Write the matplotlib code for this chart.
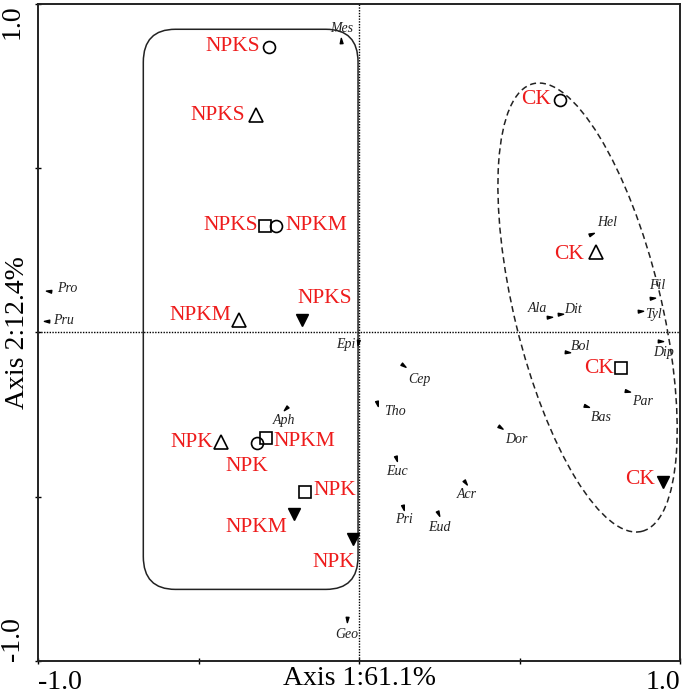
import numpy as np
import matplotlib.pyplot as plt
from matplotlib.patches import FancyBboxPatch, Ellipse
from matplotlib.markers import MarkerStyle
from matplotlib.path import Path

plt.rcParams['font.family'] = ['Liberation Serif', 'DejaVu Serif']

# sample scores (treatment, sampling code)
sample_names = ['NPKS', 'NPKS', 'NPKS', 'NPKM', 'NPKM', 'NPKS',
                'NPK', 'NPK', 'NPKM', 'NPK', 'NPKM', 'NPK',
                'CK', 'CK', 'CK', 'CK']
sample_code = ['o', '^', 's', 'o', '^', 'v',
               '^', 'o', 's', 's', 'v', 'v',
               'o', '^', 's', 'v']
sample_x = [-0.279, -0.322, -0.293, -0.259, -0.374, -0.179,
            -0.431, -0.319, -0.291, -0.168, -0.202, -0.020,
            0.626, 0.737, 0.816, 0.946]
sample_y = [0.870, 0.662, 0.325, 0.325, 0.038, 0.038,
            -0.332, -0.335, -0.322, -0.487, -0.553, -0.629,
            0.708, 0.246, -0.107, -0.454]

# species scores
species = ['Mes', 'Pro', 'Pru', 'Epi', 'Aph', 'Geo', 'Hel', 'Fil', 'Tyl', 'Ala', 'Dit',
           'Bol', 'Dip', 'Par', 'Bas', 'Dor', 'Cep', 'Tho', 'Euc', 'Acr', 'Pri', 'Eud']
species_x = [-0.057, -0.965, -0.971, -0.004, -0.228, -0.038, 0.722, 0.912, 0.875, 0.593, 0.626,
             0.647, 0.938, 0.836, 0.707, 0.439, 0.138, 0.055, 0.114, 0.330, 0.138, 0.245]
species_y = [0.888, 0.126, 0.036, -0.028, -0.231, -0.873, 0.299, 0.106, 0.066, 0.046, 0.056,
             -0.058, -0.025, -0.178, -0.223, -0.289, -0.100, -0.216, -0.381, -0.454, -0.530, -0.550]

x_ticklabels = ['-1.0', '', '', '', '1.0']
y_ticklabels = ['-1.0', '', '', '', '1.0']

# label placement (pixels offset, alignment)
sample_off = [(-9, 0, 'right'), (-11, 0, 'right'), (-7, 0, 'right'), (10, 0, 'left'),
              (-8, 5, 'right'), (23, 22, 'center'), (-7, -1, 'right'), (-10, -24, 'center'),
              (8, -3, 'left'), (8, 2, 'left'), (-7, -13, 'right'), (3, -23, 'right'),
              (-9, 0, 'right'), (-12, -3, 'right'), (-7, -1, 'right'), (-8, 2, 'right')]
species_off = [(1, 12, 'center'), (8, 3, 'left'), (6, 0, 'left'), (-2, -3, 'right'),
               (-2, -12, 'center'), (0, -15, 'center'), (6, 12, 'left'), (-3, 12, 'left'),
               (5, -4, 'left'), (-2, 9, 'right'), (4, 5, 'left'), (4, 5, 'left'),
               (-7, -12, 'left'), (5, -11, 'left'), (5, -12, 'left'), (5, -12, 'left'),
               (5, -14, 'left'), (7, -8, 'left'), (1, -14, 'center'), (2, -13, 'center'),
               (1, -13, 'center'), (2, -14, 'center')]

fig = plt.figure(figsize=(6.85, 6.98), dpi=100)
ax = fig.add_axes([0.0555, 0.053, 0.9372, 0.9413])
ax.set_xlim(-1, 1)
ax.set_ylim(-1, 1)

ax.axhline(0, color='black', lw=1, ls=(0, (1, 1)), zorder=1)
ax.axvline(0, color='black', lw=1, ls=(0, (1, 1)), zorder=1)

# group outlines
box = FancyBboxPatch((-0.672, -0.782), 0.669, 1.705,
                     boxstyle='round,pad=0,rounding_size=0.1',
                     fc='none', ec='#222222', lw=1.1, zorder=2)
ax.add_patch(box)
ell = Ellipse((0.712, 0.076), 0.457, 1.404, angle=14, fc='none', ec='#222222',
              lw=1.1, ls=(0, (4, 2.5)), zorder=2)
ax.add_patch(ell)

# species arrowheads
head = Path([(0, 1), (-0.45, -0.7), (0.45, -0.7), (0, 1)],
            [Path.MOVETO, Path.LINETO, Path.LINETO, Path.CLOSEPOLY])
for i, name in enumerate(species):
    ang = np.degrees(np.arctan2(species_y[i], species_x[i])) - 90
    m = MarkerStyle(head).rotated(deg=ang)
    ax.plot(species_x[i], species_y[i], marker=m, ms=4.5, color='black', ls='none', zorder=3)
    dx, dy, ha = species_off[i]
    ax.annotate(name, (species_x[i], species_y[i]), xytext=(dx, dy), textcoords='offset pixels',
                ha=ha, va='center', fontsize=10, style='italic', color='#222222', zorder=4)

# samples
msize = {'o': 8.6, '^': 9.5, 's': 8.6, 'v': 9.2}
for i, name in enumerate(sample_names):
    c = sample_code[i]
    if c == 'v':
        ax.plot(sample_x[i], sample_y[i], marker=c, ms=msize[c], color='black', ls='none', zorder=5)
    else:
        ax.plot(sample_x[i], sample_y[i], marker=c, ms=msize[c], mfc='none', mec='black',
                mew=1.2, ls='none', zorder=5)
    dx, dy, ha = sample_off[i]
    ax.annotate(name, (sample_x[i], sample_y[i]), xytext=(dx, dy), textcoords='offset pixels',
                ha=ha, va='center', fontsize=15.5, color='#ee1c1c', zorder=6)

ticks = [-1, -0.5, 0, 0.5, 1]
ax.set_xticks(ticks)
ax.set_yticks(ticks)
ax.set_xticklabels(x_ticklabels, fontsize=20)
ax.set_yticklabels(y_ticklabels, fontsize=20, rotation=90)
xl = ax.get_xticklabels()
xl[0].set_ha('left')
xl[-1].set_ha('right')
yl = ax.get_yticklabels()
yl[0].set_va('bottom')
yl[-1].set_va('top')
ax.tick_params(direction='inout', length=5, width=1, pad=4)
ax.tick_params(axis='y', pad=7)

ax.set_xlabel('Axis 1:61.1%', fontsize=20)
ax.xaxis.set_label_coords(0.5, -0.008)
ax.set_ylabel('Axis 2:12.4%', fontsize=20)
ax.yaxis.set_label_coords(-0.012, 0.5)

for s in ax.spines.values():
    s.set_linewidth(1.4)
    s.set_color('#222222')

fig.savefig('out.png', dpi=100)
